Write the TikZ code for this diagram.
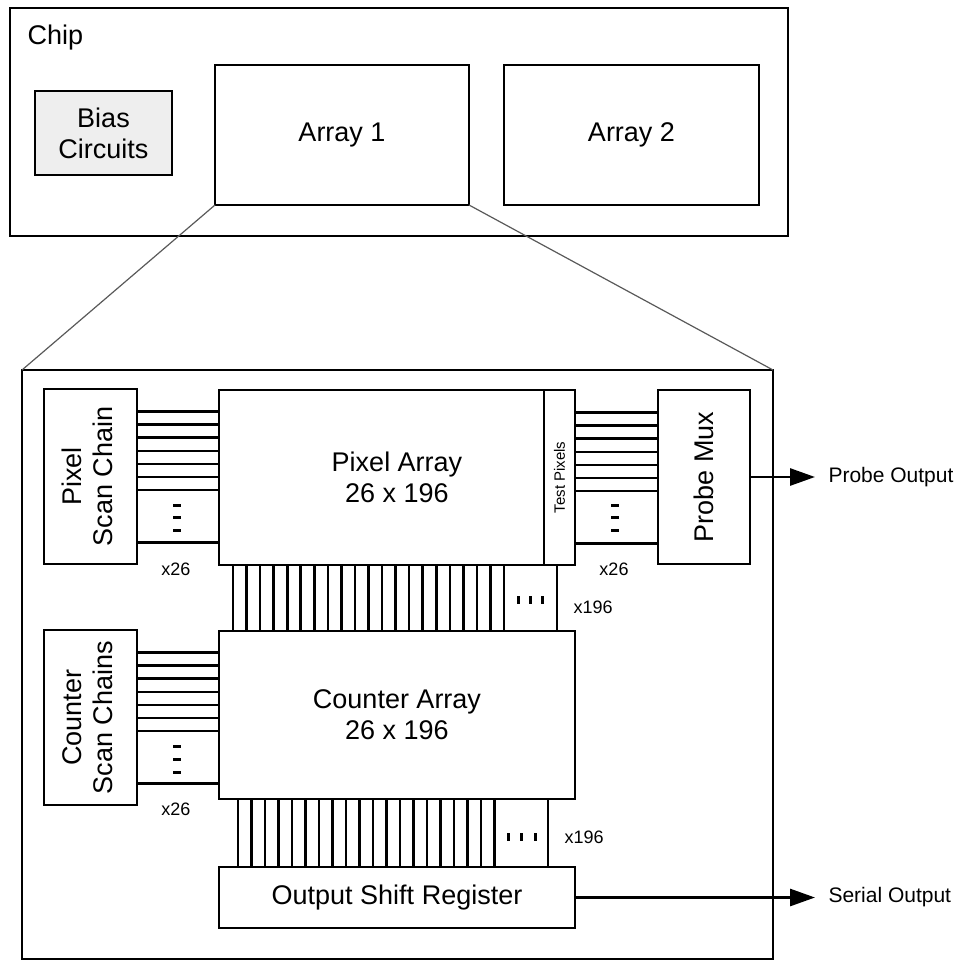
\documentclass[tikz,border=0pt]{standalone}
\usepackage{fontspec}
\usepackage{graphicx}
\setmainfont{Liberation Sans}
\usetikzlibrary{arrows.meta,calc}
\begin{document}
\begin{tikzpicture}[x=1pt,y=-1pt,
  box/.style={draw, line width=2.8pt, inner sep=0pt, outer sep=0pt, anchor=north west, align=center, font=\fontsize{27}{31}\selectfont},
  bus/.style={line width=2.6pt},
  dotbar/.style={line width=3pt},
  small/.style={font=\fontsize{18}{20}\selectfont},
  outlbl/.style={anchor=west, font=\fontsize{21}{24}\selectfont},
  zoomline/.style={draw=gray!70!black, line width=1.2pt},
  outarrow/.style={line width=2.8pt, -{Triangle[length=25pt,width=17pt]}},
]
\useasboundingbox (0,0) rectangle (963,963);

% top chip view
\node[box, minimum width=778pt, minimum height=228pt] (chip) at (10,8) {};
\node[anchor=base west, font=\fontsize{27}{31}\selectfont] (chiplbl) at (24,45) {Chip};
\node[box, fill=gray!13, minimum width=137pt, minimum height=84pt] (bias) at (35,91) {Bias\\Circuits};
\node[box, minimum width=254pt, minimum height=140pt] (arr1) at (215,65) {Array 1};
\node[box, minimum width=255pt, minimum height=140pt] (arr2) at (504,65) {Array 2};

% zoomed array
\node[box, minimum width=751pt, minimum height=589pt] (big) at (22,370) {};
\draw[zoomline] (arr1.south west) -- (big.north west);
\draw[zoomline] (arr1.south east) -- (big.north east);

\node[box, minimum width=93pt, minimum height=175pt] (psc) at (44,389)
  {\rotatebox{90}{\begin{tabular}{@{}c@{}}Pixel\\Scan Chain\end{tabular}}};
\node[box, minimum width=356pt, minimum height=175pt] (pix) at (219,390) {Pixel Array\\26 x 196};
\node[box, minimum width=31pt, minimum height=175pt] (tp) at (544,390)
  {\rotatebox{90}{\fontsize{15}{17}\selectfont Test Pixels}};
\node[box, minimum width=92pt, minimum height=174pt] (pmux) at (658,390) {\rotatebox{90}{Probe Mux}};
\node[box, minimum width=93pt, minimum height=175pt] (csc) at (44,630)
  {\rotatebox{90}{\begin{tabular}{@{}c@{}}Counter\\Scan Chains\end{tabular}}};
\node[box, minimum width=356pt, minimum height=168pt] (cnt) at (219,631) {Counter Array\\26 x 196};
\node[box, minimum width=356pt, minimum height=61pt] (osr) at (219,867) {Output Shift Register};

% horizontal buses
\foreach \d [count=\i] in {22.5,35.6,48.7,61.8,74.9,88,101.1,153.5} {
  \coordinate (pl\i) at ($(psc.north east)+(0,\d)$);
  \draw[bus] (pl\i) -- (pl\i -| pix.west);
  \coordinate (pr\i) at ($(pmux.north west)+(0,\d)$);
  \draw[bus] (pr\i) -- (pr\i -| tp.east);
  \coordinate (cl\i) at ($(csc.north east)+(0,\d)$);
  \draw[bus] (cl\i) -- (cl\i -| cnt.west);
}

% vertical buses
\foreach \k in {0,...,20} {
  \coordinate (vu\k) at ($(pix.south west)+(14+13.55*\k,0)$);
  \draw[bus] (vu\k) -- (vu\k |- cnt.north);
}
\coordinate (vuL) at ($(pix.south west)+(338,0)$);
\draw[bus] (vuL) -- (vuL |- cnt.north);
\foreach \k in {0,...,19} {
  \coordinate (vl\k) at ($(cnt.south west)+(19+13.5*\k,0)$);
  \draw[bus] (vl\k) -- (vl\k |- osr.north);
}
\coordinate (vlL) at ($(cnt.south west)+(329,0)$);
\draw[bus] (vlL) -- (vlL |- osr.north);

% ellipsis marks
\foreach \y in {505,517.5,530.5} {
  \draw[dotbar] (173,\y) -- (181,\y);
  \draw[dotbar] (611,\y) -- (619,\y);
}
\foreach \y in {746,759,772} {
  \draw[dotbar] (173,\y) -- (181,\y);
}
\foreach \x in {518,530,542} {
  \draw[dotbar] (\x,596) -- (\x,604);
}
\foreach \x in {508,521.5,535} {
  \draw[dotbar] (\x,833) -- (\x,841);
}

% count labels
\node[small] (n1) at (176,569) {x26};
\node[small] (n2) at (614,569) {x26};
\node[small] (n3) at (176,809) {x26};
\node[small, anchor=west] (n4) at (570,607) {x196};
\node[small, anchor=west] (n5) at (561,837) {x196};

% outputs
\coordinate (poend) at (815,477);
\draw[outarrow] (pmux.east) -- (poend);
\node[outlbl] (polbl) at (825,477) {Probe Output};
\coordinate (soend) at (osr.east -| poend);
\draw[outarrow] (osr.east) -- (soend);
\node[outlbl] (solbl) at ($(soend)+(10,0)$) {Serial Output};
\end{tikzpicture}
\end{document}
